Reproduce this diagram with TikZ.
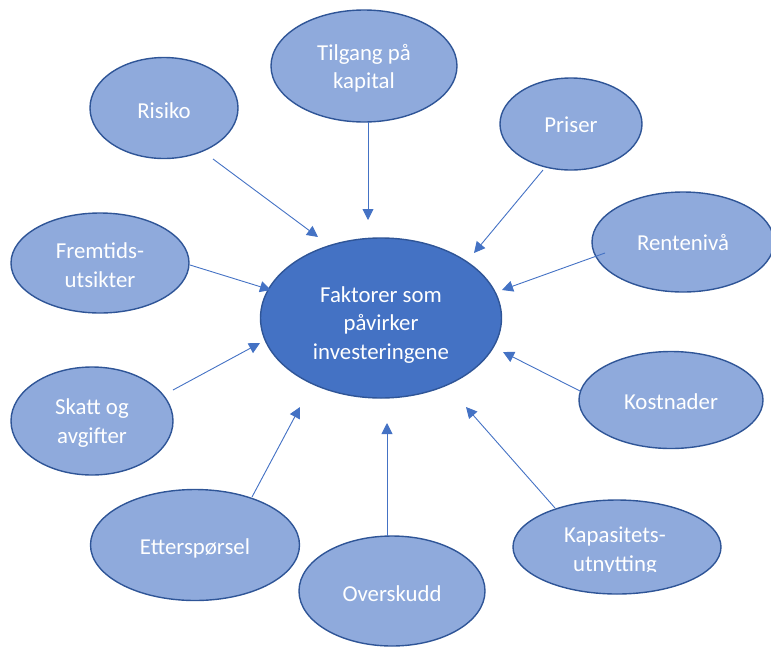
\documentclass[tikz,border=0pt]{standalone}
\usepackage{fontspec}
\setmainfont{Carlito}
\usetikzlibrary{shapes.geometric,arrows.meta}
\definecolor{lightfill}{HTML}{8FAADC}
\definecolor{darkfill}{HTML}{4472C4}
\definecolor{edgecol}{HTML}{2F5597}
\definecolor{arrowc}{HTML}{4472C4}
\tikzset{
  factor/.style={ellipse, draw=edgecol, line width=1.4pt, fill=lightfill, inner sep=0pt},
  mainfactor/.style={factor, fill=darkfill},
  labeltext/.style={text=white, font=\fontsize{22.8}{28.5}\selectfont, align=center, inner sep=0pt},
  arr/.style={draw=arrowc, line width=0.9pt, -{Triangle[length=11pt,width=11pt]}}
}
\begin{document}
\begin{tikzpicture}[x=1pt,y=-1pt]
\useasboundingbox (0,0) rectangle (771,646);
\node[mainfactor, minimum width=241pt, minimum height=160pt] (c) at (381,318) {};
\node[factor, minimum width=186pt, minimum height=112pt] (tilg) at (364,66) {};
\node[factor, minimum width=148pt, minimum height=101pt] (risk) at (164,108) {};
\node[factor, minimum width=142pt, minimum height=92pt] (pris) at (571,124) {};
\node[factor, minimum width=182pt, minimum height=100pt] (rent) at (683,242) {};
\node[factor, minimum width=178pt, minimum height=100pt] (frem) at (100,263) {};
\node[factor, minimum width=162pt, minimum height=108pt] (skatt) at (92,421) {};
\node[factor, minimum width=184pt, minimum height=97pt] (kost) at (671,400) {};
\node[factor, minimum width=209pt, minimum height=111pt] (ett) at (195,545) {};
\node[factor, minimum width=186pt, minimum height=110pt] (over) at (392,591) {};
\node[factor, minimum width=208pt, minimum height=94pt] (kap) at (617,547) {};
\node[labeltext] (c-t) at ([shift={(0,7)}]c.center) {Faktorer som\\påvirker\\investeringene};
\node[labeltext] (tilg-t) at ([shift={(0,2.5)}]tilg.center) {Tilgang på\\kapital};
\node[labeltext] (risk-t) at ([shift={(0,3)}]risk.center) {Risiko};
\node[labeltext] (pris-t) at ([shift={(0,1)}]pris.center) {Priser};
\node[labeltext] (rent-t) at ([shift={(0,1)}]rent.center) {Rentenivå};
\node[labeltext] (frem-t) at ([shift={(0,2)}]frem.center) {Fremtids-\\utsikter};
\node[labeltext] (skatt-t) at ([shift={(0,2)}]skatt.center) {Skatt og\\avgifter};
\node[labeltext] (kost-t) at ([shift={(0,2)}]kost.center) {Kostnader};
\node[labeltext] (ett-t) at ([shift={(0,3)}]ett.center) {Etterspørsel};
\node[labeltext] (over-t) at ([shift={(0,3)}]over.center) {Overskudd};
\begin{scope}
  \clip (520,495) rectangle (715,571);
  \node[labeltext] (kap-t) at ([shift={(-2,4)}]kap.center) {Kapasitets-\\utnytting};
\end{scope}
\draw[arr] ([shift={(4,56)}]tilg.center) -- ([shift={(-13,-98)}]c.center);
\draw[arr] ([shift={(49,51)}]risk.center) -- ([shift={(-63,-81)}]c.center);
\draw[arr] ([shift={(-28,46)}]pris.center) -- ([shift={(93,-65)}]c.center);
\draw[arr] ([shift={(-78,11)}]rent.center) -- ([shift={(121,-28)}]c.center);
\draw[arr] ([shift={(90,2)}]frem.center) -- ([shift={(-110,-28)}]c.center);
\draw[arr] ([shift={(81,-31)}]skatt.center) -- ([shift={(-121,25)}]c.center);
\draw[arr] ([shift={(-91,-9)}]kost.center) -- ([shift={(122,34)}]c.center);
\draw[arr] ([shift={(57,-48)}]ett.center) -- ([shift={(-81,89)}]c.center);
\draw[arr] ([shift={(-5,-55)}]over.center) -- ([shift={(6,105)}]c.center);
\draw[arr] ([shift={(-62,-39)}]kap.center) -- ([shift={(85,89)}]c.center);
\end{tikzpicture}
\end{document}
